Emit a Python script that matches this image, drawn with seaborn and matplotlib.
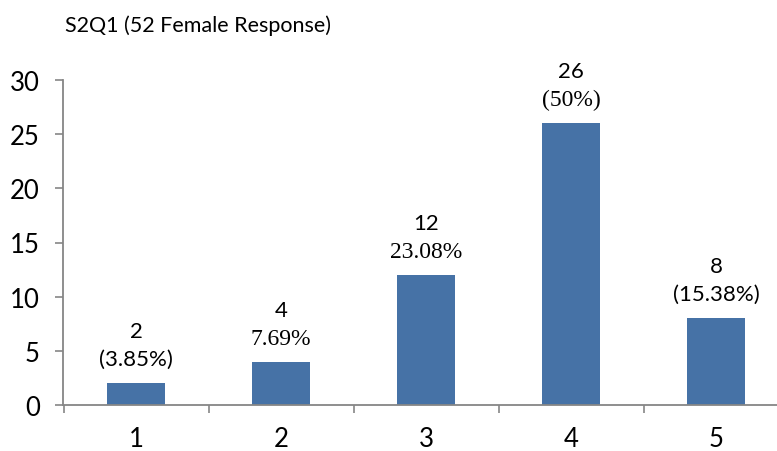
import matplotlib
matplotlib.use("Agg")
import matplotlib.pyplot as plt
import seaborn as sns
import pandas as pd

# Survey answers S2Q1, female respondents
categories = ["1", "2", "3", "4", "5"]
counts = [2, 4, 12, 26, 8]
pct_labels = ["(3.85%)", "7.69%", "23.08%", "(50%)", "(15.38%)"]
pct_serif = [False, True, True, True, False]

sns.set_theme(style="white")
plt.rcParams["font.family"] = ["Lato", "DejaVu Sans"]

W, H, DPI = 777, 452, 100
fig = plt.figure(figsize=(W / DPI, H / DPI), dpi=DPI)
ax = fig.add_axes([63.5 / W, 46 / H, 725 / W, 325 / H])

df = pd.DataFrame({"answer": categories, "count": counts})
sns.barplot(data=df, x="answer", y="count", color="#4672A6", saturation=1,
            width=0.4, ax=ax, edgecolor="none")

ax.set_xlim(-0.5, len(categories) - 0.5)
ax.set_ylim(0, 30)
ax.set_yticks(range(0, 31, 5))
ax.set_xlabel("")
ax.set_ylabel("")

gray = "#868686"
for side in ("top", "right"):
    ax.spines[side].set_visible(False)
for side in ("left", "bottom"):
    ax.spines[side].set_color(gray)
    ax.spines[side].set_linewidth(1.3)

ax.tick_params(axis="y", left=True, length=6, width=1.2, color=gray,
               labelsize=18.5, pad=11, labelcolor="black")
ax.tick_params(axis="x", which="major", bottom=True, length=0,
               labelsize=18.5, pad=15, labelcolor="black")
ax.set_xticks([i - 0.5 for i in range(len(categories) + 1)], minor=True)
ax.tick_params(axis="x", which="minor", bottom=True, length=6, width=1.2,
               color=gray)

# value labels: count on top, share of respondents below it
for i, (c, p, serif) in enumerate(zip(counts, pct_labels, pct_serif)):
    fam = ["Liberation Serif"] if serif else ["Lato", "DejaVu Sans"]
    ax.annotate(p, xy=(i, c), xytext=(0, 18), textcoords="offset pixels",
                ha="center", va="baseline", fontsize=17 if serif else 16,
                family=fam, color="black")
    ax.annotate(str(c), xy=(i, c), xytext=(0, 46), textcoords="offset pixels",
                ha="center", va="baseline", fontsize=16,
                family=["Lato", "DejaVu Sans"], color="black")

fig.text(65 / W, 1 - 32 / H, "S2Q1 (52 Female Response)", ha="left",
         va="baseline", fontsize=15.5, color="black")

fig.savefig("out.png", dpi=DPI)
